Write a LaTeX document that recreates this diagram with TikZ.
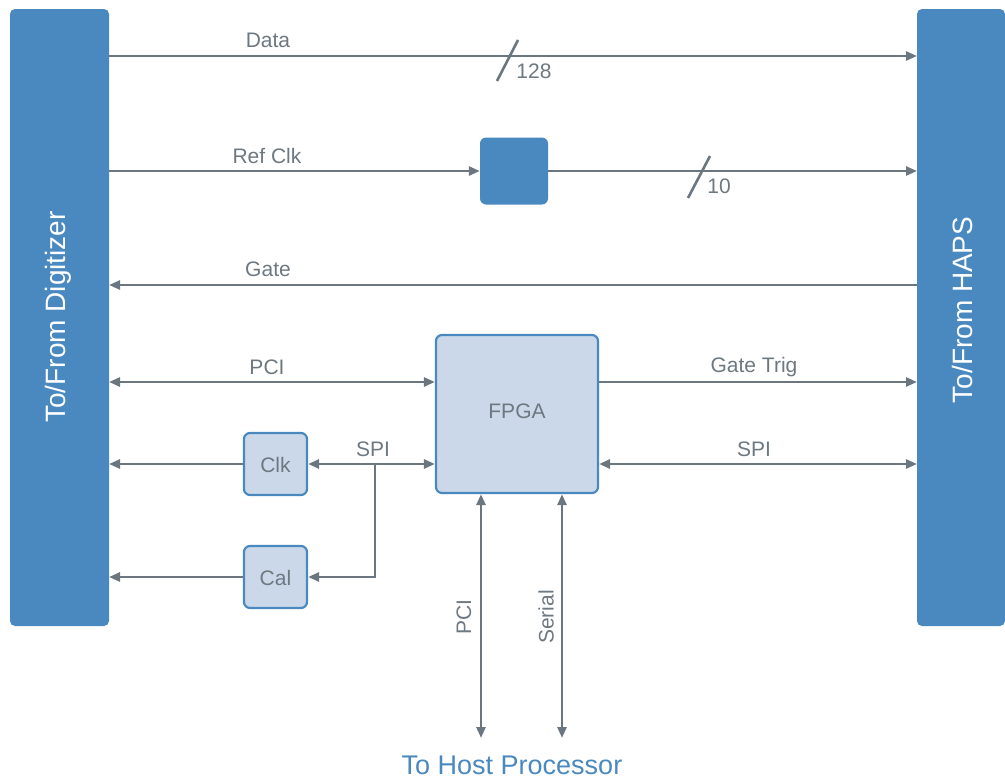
\documentclass[tikz,border=0pt]{standalone}
\usepackage{fontspec}
\setmainfont{Liberation Sans}
\usetikzlibrary{arrows.meta}
\definecolor{barblue}{HTML}{4A89C0}
\definecolor{lightbox}{HTML}{CBD8EA}
\definecolor{linegray}{HTML}{6B7780}
\definecolor{textgray}{HTML}{6D7880}
\begin{document}
\begin{tikzpicture}[x=1pt,y=-1pt,
  bar/.style={fill=barblue,draw=none,rounded corners=5pt},
  smallbox/.style={fill=lightbox,draw=barblue,line width=2.2pt,rounded corners=6pt},
  conn/.style={draw=linegray,line width=2.6pt},
  tip/.style={-{Triangle[length=11pt,width=9pt]}},
  dtip/.style={{Triangle[length=11pt,width=9pt]}-{Triangle[length=11pt,width=9pt]}},
  lbl/.style={text=textgray,font=\fontsize{21}{24}\selectfont,inner sep=0pt},
  barlbl/.style={text=white,font=\fontsize{28}{32}\selectfont,inner sep=0pt,rotate=90}
]
\useasboundingbox (0,0) rectangle (1005,779);
% side bars
\path[bar] (10,9) rectangle (109,626);
\node[draw=none,inner sep=0pt,minimum width=99pt,minimum height=617pt] (L) at (59.5,317.5) {};
\path[bar] (917,9) rectangle (1005,626);
\node[draw=none,inner sep=0pt,minimum width=88pt,minimum height=617pt] (R) at (961,317.5) {};
\node[barlbl] (Ltxt) at (58,317) {To/From Digitizer};
\node[barlbl] (Rtxt) at (962,310) {To/From HAPS};
% boxes
\node[fill=barblue,draw=none,rounded corners=6pt,minimum width=68pt,minimum height=67pt,inner sep=0pt] (refbox) at (514,171) {};
\node[smallbox,minimum width=162pt,minimum height=158pt,inner sep=0pt] (fpga) at (517,414) {};
\node[lbl] at (517,411) {FPGA};
\node[smallbox,minimum width=63pt,minimum height=62pt,inner sep=0pt] (clk) at (275.5,464) {};
\node[lbl] at (275.5,465) {Clk};
\node[smallbox,minimum width=63pt,minimum height=62pt,inner sep=0pt] (cal) at (275.5,577) {};
\node[lbl] at (275.5,578) {Cal};
% coordinates
\coordinate (dA) at (109,56); \coordinate (dB) at (917,56);
\coordinate (rA) at (109,171); \coordinate (rB) at (917,171);
\coordinate (gA) at (917,285); \coordinate (gB) at (109,285);
\coordinate (pA) at (109,382);
\coordinate (gtB) at (917,382);
\coordinate (sR) at (917,464);
\coordinate (cL) at (109,464);
\coordinate (calL) at (109,577);
\coordinate (j) at (375,464);
\coordinate (pciB) at (481,738);
\coordinate (serB) at (562,738);
% connectors
\draw[conn,tip] (dA) -- (dB);
\node[lbl] at (268,40) {Data};
\draw[conn] (497,81) -- (518,40);
\node[lbl] at (534,71) {128};
\draw[conn,tip] (rA) -- (refbox.west);
\node[lbl] at (267,156) {Ref Clk};
\draw[conn,tip] (refbox.east) -- (rB);
\draw[conn] (688,198) -- (710,156);
\node[lbl] at (719,186) {10};
\draw[conn,tip] (gA) -- (gB);
\node[lbl] at (268,269) {Gate};
\draw[conn,dtip] (pA) -- (fpga.west |- pA);
\node[lbl] at (267,367) {PCI};
\draw[conn,tip] (fpga.east |- gtB) -- (gtB);
\node[lbl] at (754,367) {Gate Trig};
\draw[conn,dtip] (fpga.east |- sR) -- (sR);
\node[lbl] at (754,449) {SPI};
\draw[conn,tip] (clk.west |- cL) -- (cL);
\draw[conn,dtip] (clk.east |- j) -- (fpga.west |- j);
\node[lbl] at (373,449) {SPI};
\draw[conn,tip] (j) -- (j |- cal.east) -- (cal.east |- calL);
\draw[conn,tip] (cal.west |- calL) -- (calL);
\draw[conn,dtip] (fpga.south -| pciB) -- (pciB);
\node[lbl,rotate=90] at (464,617) {PCI};
\draw[conn,dtip] (fpga.south -| serB) -- (serB);
\node[lbl,rotate=90] at (546,617) {Serial};
\node[text=barblue,font=\fontsize{27}{32}\selectfont,inner sep=0pt] (host) at (512,765) {To Host Processor};
\end{tikzpicture}
\end{document}
